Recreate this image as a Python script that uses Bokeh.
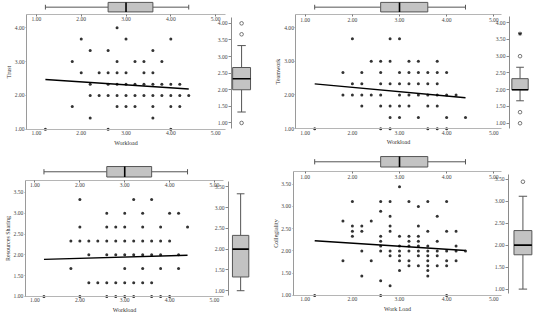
from bokeh.plotting import figure
from bokeh.models import Range1d, LinearAxis, FixedTicker, PrintfTickFormatter
from bokeh.embed import file_html
from bokeh.resources import INLINE

# ------------------------------------------------------------------ data
x_ticks = [1.0, 2.0, 3.0, 4.0, 5.0]
# lower whisker, Q1, median, Q3, upper whisker
workload_box = [1.2, 2.6, 3.0, 3.6, 4.4]
fit_x = [1.2, 4.4]

trust_x = [
    2.8,
    2.0, 3.0, 4.0,
    2.2, 2.6, 3.6,
    1.8, 2.8, 3.2, 3.4, 3.8,
    2.0, 2.4, 2.6, 2.8, 3.0, 3.4, 3.6,
    2.2, 2.6, 2.8, 3.0, 3.2, 3.4, 3.6, 3.8, 4.0, 4.2,
    2.2, 2.4, 2.6, 2.8, 3.0, 3.2, 3.4, 3.6, 3.8, 4.0, 4.2, 4.4,
    1.8, 2.8, 3.0, 3.2, 3.6, 4.0, 4.2,
    2.2, 3.6,
    1.2, 2.6, 4.0,
]
trust_y = [
    4.00,
    3.67, 3.67, 3.67,
    3.33, 3.33, 3.33,
    3.00, 3.00, 3.00, 3.00, 3.00,
    2.67, 2.67, 2.67, 2.67, 2.67, 2.67, 2.67,
    2.33, 2.33, 2.33, 2.33, 2.33, 2.33, 2.33, 2.33, 2.33, 2.33,
    2.00, 2.00, 2.00, 2.00, 2.00, 2.00, 2.00, 2.00, 2.00, 2.00, 2.00, 2.00,
    1.67, 1.67, 1.67, 1.67, 1.67, 1.67, 1.67,
    1.33, 1.33,
    1.00, 1.00, 1.00,
]
trust_fit = [2.47, 2.19]
trust_box = [1.33, 2.00, 2.33, 2.67, 3.33]
trust_outliers = [4.00, 3.67, 1.00]
trust_extremes = []
trust_ticks = [1.0, 2.0, 3.0, 4.0]
trust_box_ticks = [1.0, 1.5, 2.0, 2.5, 3.0, 3.5, 4.0]

team_x = [
    2.0, 2.8, 3.0,
    2.4, 2.6, 2.8, 3.2, 3.4, 3.8,
    1.8, 2.2, 2.6, 3.0, 3.2, 3.4, 3.6, 3.8, 4.0,
    2.0, 2.2, 2.6, 2.8, 3.0, 3.2, 3.4, 3.6, 3.8,
    1.8, 2.0, 2.2, 2.4, 2.6, 3.0, 3.2, 3.4, 3.6, 3.8, 4.0, 4.2,
    2.2, 2.6, 2.8, 3.0, 3.2, 3.6, 3.8,
    2.8, 3.0, 3.4, 4.0, 4.4,
    1.2, 2.6, 2.8, 3.6, 3.8, 4.0,
]
team_y = [
    3.67, 3.67, 3.67,
    3.00, 3.00, 3.00, 3.00, 3.00, 3.00,
    2.67, 2.67, 2.67, 2.67, 2.67, 2.67, 2.67, 2.67, 2.67,
    2.33, 2.33, 2.33, 2.33, 2.33, 2.33, 2.33, 2.33, 2.33,
    2.00, 2.00, 2.00, 2.00, 2.00, 2.00, 2.00, 2.00, 2.00, 2.00, 2.00, 2.00,
    1.67, 1.67, 1.67, 1.67, 1.67, 1.67, 1.67,
    1.33, 1.33, 1.33, 1.33, 1.33,
    1.00, 1.00, 1.00, 1.00, 1.00, 1.00,
]
team_fit = [2.33, 1.92]
team_box = [1.67, 2.00, 2.00, 2.33, 2.67]
team_outliers = [3.00, 1.33, 1.00]
team_extremes = [3.67]
team_ticks = [1.0, 2.0, 3.0, 4.0]
team_box_ticks = [1.0, 1.5, 2.0, 2.5, 3.0, 3.5, 4.0]

share_x = [
    2.0, 3.2, 3.6,
    2.6, 3.0, 3.4, 4.0, 4.2,
    2.0, 2.6, 2.8, 3.0, 3.4, 3.8, 4.4,
    1.8, 2.0, 2.2, 2.4, 2.6, 2.8, 3.0, 3.2, 3.4, 3.6, 3.8, 4.0,
    2.2, 2.6, 2.8, 3.0, 3.2, 3.4, 3.6, 3.8, 4.2,
    1.8, 3.0, 3.4, 3.8, 4.2,
    2.2, 2.4, 2.6, 2.8, 3.0, 3.2, 3.4, 3.6,
    1.2, 2.0, 2.6, 2.8, 3.0, 3.2, 3.6, 3.8, 4.0,
]
share_y = [
    3.33, 3.33, 3.33,
    3.00, 3.00, 3.00, 3.00, 3.00,
    2.67, 2.67, 2.67, 2.67, 2.67, 2.67, 2.67,
    2.33, 2.33, 2.33, 2.33, 2.33, 2.33, 2.33, 2.33, 2.33, 2.33, 2.33, 2.33,
    2.00, 2.00, 2.00, 2.00, 2.00, 2.00, 2.00, 2.00, 2.00,
    1.67, 1.67, 1.67, 1.67, 1.67,
    1.33, 1.33, 1.33, 1.33, 1.33, 1.33, 1.33, 1.33,
    1.00, 1.00, 1.00, 1.00, 1.00, 1.00, 1.00, 1.00, 1.00,
]
share_fit = [1.89, 1.99]
share_box = [1.00, 1.33, 2.00, 2.33, 3.33]
share_outliers = []
share_extremes = []
share_ticks = [1.0, 1.5, 2.0, 2.5, 3.0, 3.5]
share_box_ticks = [1.0, 1.5, 2.0, 2.5, 3.0, 3.5]

coll_x = [
    3.0,
    2.0, 2.6, 2.8, 3.2, 3.6, 4.0,
    3.4,
    2.6,
    2.8, 3.8,
    1.8, 2.4,
    2.0, 2.2, 2.8, 3.4,
    2.0, 2.2, 2.8, 3.6, 4.0, 4.2,
    2.0, 2.6, 3.0, 3.2, 3.4,
    2.6, 3.2, 3.4, 3.8,
    2.6, 3.0, 3.2, 3.4, 3.6, 4.2,
    2.2, 2.6, 2.8, 3.0, 3.2, 3.4, 3.6, 3.8, 4.0, 4.2, 4.4,
    2.8, 3.0, 3.4, 3.6, 3.8,
    1.8, 2.4, 3.0, 3.2, 3.6, 4.0, 4.2,
    3.2, 3.4, 3.6, 3.8, 4.0,
    3.0, 3.6,
    2.2, 3.6,
    2.6,
    2.8,
    1.2, 2.6, 4.0,
]
coll_y = [
    3.44,
    3.11, 3.11, 3.11, 3.11, 3.11, 3.11,
    3.00,
    2.89,
    2.78, 2.78,
    2.67, 2.67,
    2.56, 2.56, 2.56, 2.56,
    2.44, 2.44, 2.44, 2.44, 2.44, 2.44,
    2.33, 2.33, 2.33, 2.33, 2.33,
    2.22, 2.22, 2.22, 2.22,
    2.11, 2.11, 2.11, 2.11, 2.11, 2.11,
    2.00, 2.00, 2.00, 2.00, 2.00, 2.00, 2.00, 2.00, 2.00, 2.00, 2.00,
    1.89, 1.89, 1.89, 1.89, 1.89,
    1.78, 1.78, 1.78, 1.78, 1.78, 1.78, 1.78,
    1.67, 1.67, 1.67, 1.67, 1.67,
    1.56, 1.56,
    1.44, 1.44,
    1.33,
    1.22,
    1.00, 1.00, 1.00,
]
coll_fit = [2.23, 2.01]
coll_box = [1.00, 1.78, 2.00, 2.33, 3.11]
coll_outliers = [3.44]
coll_extremes = []
coll_ticks = [1.0, 1.5, 2.0, 2.5, 3.0, 3.5]
coll_box_ticks = [1.0, 1.5, 2.0, 2.5, 3.0, 3.5]

# ------------------------------------------------------------------ layout
W, H = 534, 314
X0, Y0 = 4.0, 0.0
KX, KY = (W - X0 - 1) / 550.0, (H - Y0) / 330.0

FONT = "Liberation Serif"
POINT = "#333333"
BOX_FILL = "#c3c3c3"
BOX_LINE = "#555555"


def lin(a, pa, b, pb, px):
    return a + (px - pa) * (b - a) / (pb - pa)


def x_range_for(a, pa, b, pb):
    spa, spb = X0 + pa * KX, X0 + pb * KX
    s = (b - a) / (spb - spa)
    return Range1d(a - spa * s, a + (W - spa) * s)


def y_range_for(a, pa, b, pb):
    spa, spb = Y0 + pa * KY, Y0 + pb * KY
    s = (b - a) / (spa - spb)
    return Range1d(a - (H - spa) * s, a + spa * s)


# geometry of each panel, in reference-pixel units
G1 = dict(x1=33.2, x5=219.5, xl=23.0, xr=230.0, ya=(1.0, 135.3), yb=(4.0, 28.7), ytop=14.5,
          tb_c=7.0, tb_h=5.0, rb_c=246.5, rb_h=9.3, rb_ax=236.0,
          rba=(1.0, 128.7), rbb=(4.0, 24.0), rb_top=18.0, rb_bot=135.0)
G2 = dict(x1=312.7, x5=508.7, xl=303.0, xr=517.0, ya=(1.0, 134.7), yb=(4.0, 28.5), ytop=15.0,
          tb_c=7.0, tb_h=5.0, rb_c=536.0, rb_h=8.5, rb_ax=525.0,
          rba=(1.0, 129.0), rbb=(4.0, 23.3), rb_top=17.0, rb_bot=135.0)
G3 = dict(x1=31.7, x5=218.3, xl=21.7, xr=228.0, ya=(1.0, 311.0), yb=(3.5, 201.7), ytop=189.0,
          tb_c=180.0, tb_h=5.5, rb_c=245.5, rb_h=8.5, rb_ax=233.0,
          rba=(1.0, 305.0), rbb=(3.5, 195.7), rb_top=190.0, rb_bot=310.0)
G4 = dict(x1=312.7, x5=508.7, xl=300.0, xr=517.0, ya=(1.0, 310.0), yb=(3.5, 193.0), ytop=180.0,
          tb_c=169.5, tb_h=5.5, rb_c=539.0, rb_h=9.3, rb_ax=524.0,
          rba=(1.0, 303.3), rbb=(3.5, 187.7), rb_top=183.0, rb_bot=308.0)

p = figure(width=W, height=H, output_backend="svg", toolbar_location=None,
           x_range=Range1d(0, W), y_range=Range1d(0, H),
           x_axis_type=None, y_axis_type=None, min_border=0, title=None,
           outline_line_color=None, background_fill_color="white",
           border_fill_color="white")


def style_axis(ax, color):
    ax.axis_line_color = color
    ax.axis_line_width = 1
    ax.major_tick_line_color = color
    ax.major_tick_out = 2
    ax.major_tick_in = 0
    ax.minor_tick_line_color = None
    ax.major_label_text_font = FONT
    ax.major_label_text_font_size = "5.6px"
    ax.major_label_text_color = "#444444"
    ax.major_label_standoff = 1
    ax.axis_label_text_font = FONT
    ax.axis_label_text_font_size = "6px"
    ax.axis_label_text_font_style = "normal"
    ax.axis_label_text_color = "#333333"
    ax.axis_label_standoff = 1


def panel(tag, g, xs, ys, fit_y, box, outliers, extremes, yticks, bticks, ylabel, xlabel):
    xn, yn, tbn, rbx, rby = tag + "x", tag + "y", tag + "tb", tag + "rbx", tag + "rby"
    p.extra_x_ranges[xn] = x_range_for(1.0, g["x1"], 5.0, g["x5"])
    p.extra_y_ranges[yn] = y_range_for(g["ya"][0], g["ya"][1], g["yb"][0], g["yb"][1])
    p.extra_y_ranges[tbn] = y_range_for(0.0, g["tb_c"], 1.0, g["tb_c"] - g["tb_h"])
    p.extra_x_ranges[rbx] = x_range_for(0.0, g["rb_c"], 1.0, g["rb_c"] + g["rb_h"])
    p.extra_y_ranges[rby] = y_range_for(g["rba"][0], g["rba"][1], g["rbb"][0], g["rbb"][1])

    x_left = lin(1.0, g["x1"], 5.0, g["x5"], g["xl"])
    x_right = lin(1.0, g["x1"], 5.0, g["x5"], g["xr"])
    y_bot = g["ya"][0]
    y_top = lin(g["ya"][0], g["ya"][1], g["yb"][0], g["yb"][1], g["ytop"])
    rb_axis_x = lin(0.0, g["rb_c"], 1.0, g["rb_c"] + g["rb_h"], g["rb_ax"])
    rb_lo = lin(g["rba"][0], g["rba"][1], g["rbb"][0], g["rbb"][1], g["rb_bot"])
    rb_hi = lin(g["rba"][0], g["rba"][1], g["rbb"][0], g["rbb"][1], g["rb_top"])

    fmt = PrintfTickFormatter(format="%.2f")

    # scatter axes
    left = LinearAxis(x_range_name=xn, y_range_name=yn, fixed_location=x_left,
                      bounds=(y_bot, y_top), ticker=FixedTicker(ticks=yticks),
                      formatter=fmt, axis_label=ylabel)
    style_axis(left, "#9a9a9a")
    left.major_tick_out = 1
    left.axis_label_standoff = 0
    p.add_layout(left, "left")

    bottom = LinearAxis(x_range_name=xn, y_range_name=yn, fixed_location=y_bot,
                        bounds=(x_left, x_right), ticker=FixedTicker(ticks=x_ticks),
                        formatter=fmt, axis_label=xlabel)
    style_axis(bottom, "#b5b5b5")
    bottom.major_tick_out = 0
    bottom.major_label_standoff = 2
    p.add_layout(bottom, "below")

    top = LinearAxis(x_range_name=xn, y_range_name=yn, fixed_location=y_top,
                     bounds=(x_left, x_right), ticker=FixedTicker(ticks=x_ticks),
                     formatter=fmt)
    style_axis(top, "#b5b5b5")
    top.major_tick_line_color = "#777777"
    p.add_layout(top, "below")

    # scatter points and fit line
    p.scatter(xs, ys, size=3.0, fill_color=POINT, line_color=None,
              x_range_name=xn, y_range_name=yn)
    p.line(fit_x, fit_y, line_color="black", line_width=1.4,
           x_range_name=xn, y_range_name=yn)

    # top (horizontal) boxplot of the x variable
    lo, q1, med, q3, hi = workload_box
    kw = dict(x_range_name=xn, y_range_name=tbn)
    p.segment(x0=[lo, q3], y0=[0, 0], x1=[q1, hi], y1=[0, 0],
              line_color=BOX_LINE, line_width=1, **kw)
    p.segment(x0=[lo, hi], y0=[-0.5, -0.5], x1=[lo, hi], y1=[0.5, 0.5],
              line_color=BOX_LINE, line_width=1, **kw)
    p.quad(left=[q1], right=[q3], bottom=[-1], top=[1], fill_color=BOX_FILL,
           line_color=BOX_LINE, line_width=1, **kw)
    p.segment(x0=[med], y0=[-1], x1=[med], y1=[1], line_color="black",
              line_width=1.6, **kw)

    # right (vertical) boxplot of the y variable
    lo, q1, med, q3, hi = box
    kw = dict(x_range_name=rbx, y_range_name=rby)
    axr = LinearAxis(x_range_name=rbx, y_range_name=rby, fixed_location=rb_axis_x,
                     bounds=(rb_lo, rb_hi), ticker=FixedTicker(ticks=bticks),
                     formatter=fmt)
    style_axis(axr, "#8a8a8a")
    axr.major_tick_out = 3
    p.add_layout(axr, "left")

    p.segment(x0=[0, 0], y0=[lo, q3], x1=[0, 0], y1=[q1, hi],
              line_color=BOX_LINE, line_width=1, **kw)
    p.segment(x0=[-0.47, -0.47], y0=[lo, hi], x1=[0.47, 0.47], y1=[lo, hi],
              line_color=BOX_LINE, line_width=1, **kw)
    p.quad(left=[-1], right=[1], bottom=[q1], top=[q3], fill_color=BOX_FILL,
           line_color=BOX_LINE, line_width=1, **kw)
    p.segment(x0=[-1], y0=[med], x1=[1], y1=[med], line_color="black",
              line_width=1.6, **kw)
    if outliers:
        p.scatter([0] * len(outliers), outliers, marker="circle", size=3.6,
                  fill_color="white", line_color=BOX_LINE, line_width=0.8, **kw)
    if extremes:
        p.scatter([0] * len(extremes), extremes, marker="asterisk", size=4,
                  line_color="#222222", line_width=1.0, **kw)


panel("a", G1, trust_x, trust_y, trust_fit, trust_box, trust_outliers, trust_extremes,
      trust_ticks, trust_box_ticks, "Trust", "Workload")
panel("b", G2, team_x, team_y, team_fit, team_box, team_outliers, team_extremes,
      team_ticks, team_box_ticks, "Teamwork", "Workload")
panel("c", G3, share_x, share_y, share_fit, share_box, share_outliers, share_extremes,
      share_ticks, share_box_ticks, "Resources Sharing", "Workload")
panel("d", G4, coll_x, coll_y, coll_fit, coll_box, coll_outliers, coll_extremes,
      coll_ticks, coll_box_ticks, "Collegiality", "Work Load")

open("out.html", "w").write(file_html(p, INLINE))
